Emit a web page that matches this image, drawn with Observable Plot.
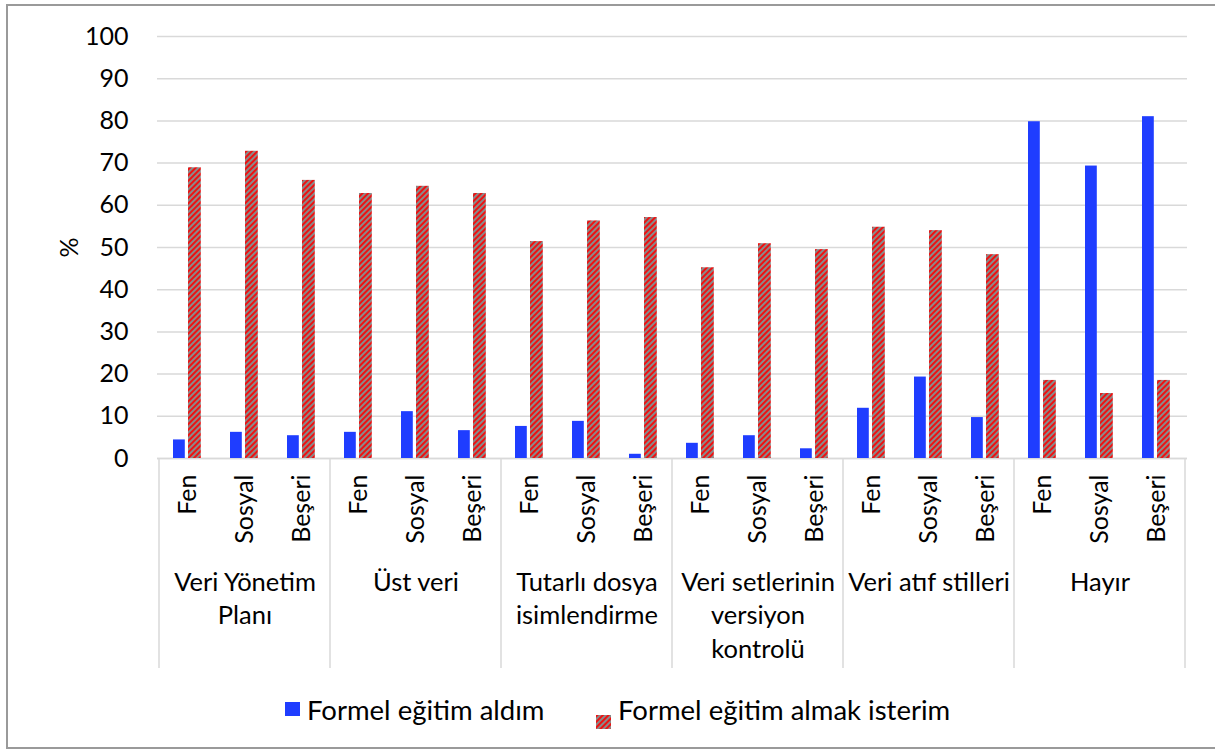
<!DOCTYPE html>
<html>
<head>
<meta charset="utf-8">
<script src="https://cdn.jsdelivr.net/npm/d3@7"></script>
<script src="https://cdn.jsdelivr.net/npm/@observablehq/plot@0.6"></script>
<style>
  html, body { margin: 0; padding: 0; background: #fff; }
  #wrap { position: relative; width: 1215px; height: 752px; overflow: hidden; font-family: Lato, "Open Sans", sans-serif; }
  #border { position: absolute; left: 6px; top: 4px; width: 1230px; height: 745px; border: 2px solid #9a9a9a; box-sizing: border-box; }
  #chart { position: absolute; left: 0; top: 0; }
  .leg { position: absolute; top: 694px; height: 30px; display: flex; align-items: center; font-size: 27.5px; color: #000; white-space: nowrap; }
  .sw { width: 15px; height: 14px; margin-right: 7px; }
</style>
</head>
<body>
<div id="wrap">
  <div id="border"></div>
  <div id="chart"></div>
  <div class="leg" style="left:285px"><div class="sw" style="background:#1f3dff"></div><span id="l1"></span></div>
  <div class="leg" style="left:596px"><div class="sw"><svg width="15" height="14"><rect width="15" height="14" fill="url(#hatchL)"/></svg></div><span id="l2"></span></div>
</div>
<script>
// ---- data ----
const groups = ["Veri Yönetim Planı", "Üst veri", "Tutarlı dosya isimlendirme", "Veri setlerinin versiyon kontrolü", "Veri atıf stilleri", "Hayır"];
const groupLabels = ["Veri Yönetim\nPlanı", "Üst veri", "Tutarlı dosya\nisimlendirme", "Veri setlerinin\nversiyon\nkontrolü", "Veri atıf stilleri", "Hayır"];
const subs = ["Fen", "Sosyal", "Beşeri"];
const seriesNames = ["Formel eğitim aldım", "Formel eğitim almak isterim"];
const aldim   = [4.4, 6.2, 5.4,  6.2, 11.1, 6.6,  7.6, 8.8, 1.0,  3.6, 5.4, 2.3,  11.9, 19.3, 9.7,  79.8, 69.3, 81.0];
const isterim = [68.9, 72.8, 65.9,  62.8, 64.5, 62.8,  51.4, 56.3, 57.1,  45.2, 50.9, 49.5,  54.8, 54.0, 48.3,  18.5, 15.4, 18.5];
const yTicks = [0, 10, 20, 30, 40, 50, 60, 70, 80, 90, 100];
const yLabel = "%";

// ---- build ----
const keys = [];
groups.forEach(g => subs.forEach(s => keys.push(g + "|" + s)));
const rowsA = keys.map((k, i) => ({key: k, value: aldim[i]}));
const rowsB = keys.map((k, i) => ({key: k, value: isterim[i]}));
const groupRows = groups.map((g, i) => ({key: g + "|" + subs[1], label: groupLabels[i]}));

const BLUE = "#1f3dff";
const GRID = "#d9d9d9";

const separators = (index, scales, values, dimensions) => {
  const g = document.createElementNS("http://www.w3.org/2000/svg", "g");
  const bw = scales.x.bandwidth();
  const xs = groups.map(gr => scales.x(gr + "|" + subs[0]));
  xs.push(scales.x(groups[groups.length - 1] + "|" + subs[subs.length - 1]) + bw);
  const y0 = scales.y(0);
  xs.forEach(x => {
    const l = document.createElementNS("http://www.w3.org/2000/svg", "line");
    l.setAttribute("x1", x); l.setAttribute("x2", x);
    l.setAttribute("y1", y0); l.setAttribute("y2", y0 + 210);
    l.setAttribute("stroke", GRID); l.setAttribute("stroke-width", 1.5);
    g.appendChild(l);
  });
  return g;
};

const svg = Plot.plot({
  width: 1215,
  height: 680,
  marginLeft: 157,
  marginRight: 28,
  marginTop: 36,
  marginBottom: 222,
  style: {fontFamily: "Lato, 'Open Sans', sans-serif", fontSize: "25px", color: "#000", background: "transparent"},
  x: {type: "band", domain: keys, padding: 0, axis: null, label: null},
  y: {domain: [0, 100], axis: null},
  marks: [
    Plot.gridY(yTicks, {stroke: GRID, strokeOpacity: 1, strokeWidth: 1.5}),
    Plot.axisY(yTicks, {tickSize: 0, tickPadding: 29, fontSize: 25, label: yLabel, labelAnchor: "center", labelArrow: "none", labelOffset: 97}),
    Plot.axisX({tickFormat: k => k.split("|")[1], tickRotate: -90, tickSize: 0, tickPadding: 16, fontSize: 25, label: null}),
    separators,
    Plot.ruleY([0], {stroke: GRID, strokeWidth: 1.5}),
    Plot.barY(rowsA, {x: "key", y: "value", fill: BLUE, insetLeft: 14, insetRight: 31.2}),
    Plot.barY(rowsB, {x: "key", y: "value", fill: "url(#hatch)", insetLeft: 29, insetRight: 15.2}),
    Plot.text(groupRows, {x: "key", text: "label", frameAnchor: "bottom", lineAnchor: "top", dy: 108, lineHeight: 1.33, fontSize: 25.5, fill: "#000"})
  ]
});

d3.select(svg).insert("defs", ":first-child").html(
  `<pattern id="hatch" patternUnits="userSpaceOnUse" width="4" height="4" patternTransform="rotate(45)">
     <rect width="4" height="4" fill="#8a8a8a"/><rect width="2" height="4" fill="#ee1111"/>
   </pattern>`);
document.getElementById("chart").appendChild(svg);

const legSvg = document.querySelectorAll(".leg svg")[0];
d3.select(legSvg).insert("defs", ":first-child").html(
  `<pattern id="hatchL" patternUnits="userSpaceOnUse" width="4" height="4" patternTransform="rotate(45)">
     <rect width="4" height="4" fill="#8a8a8a"/><rect width="2" height="4" fill="#ee1111"/>
   </pattern>`);
document.getElementById("l1").textContent = seriesNames[0];
document.getElementById("l2").textContent = seriesNames[1];
</script>
</body>
</html>
